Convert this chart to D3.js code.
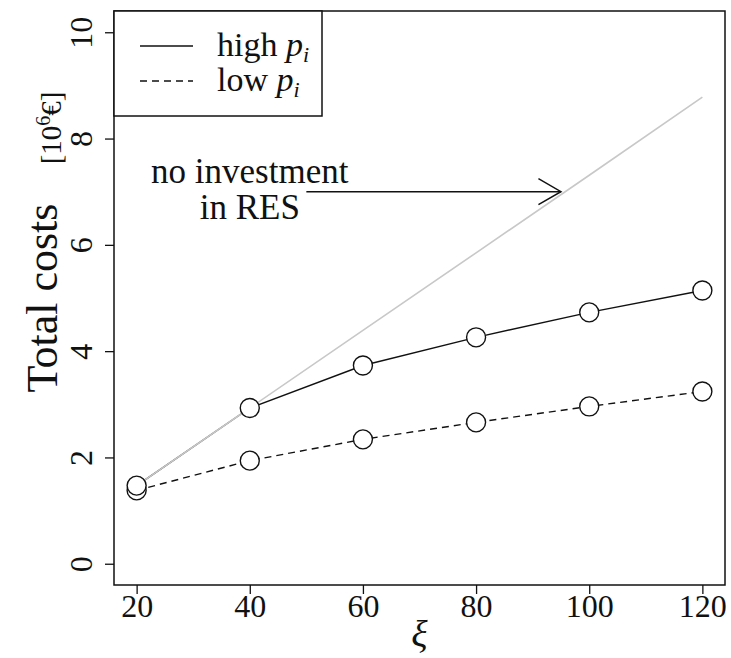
<!DOCTYPE html>
<html>
<head>
<meta charset="utf-8">
<script src="https://cdn.jsdelivr.net/npm/d3@7"></script>
<style>
  html, body { margin: 0; padding: 0; background: #fff; }
  svg text { font-family: "Liberation Serif", "DejaVu Serif", serif; fill: #111; }
</style>
</head>
<body>
<svg id="chart" width="731" height="658"></svg>
<script>
// Penalty factor ξ on the x axis
const xi = [20, 40, 60, 80, 100, 120];
// Total costs [10^6 €] for high and low prices p_i
const highP = [1.47, 2.93, 3.73, 4.26, 4.73, 5.14];
const lowP  = [1.38, 1.94, 2.34, 2.66, 2.96, 3.24];
// Reference: total costs without any investment in RES
const noInvest = [1.47, 2.93, 4.39, 5.85, 7.31, 8.78];
const xTicks = [20, 40, 60, 80, 100, 120];
const yTicks = [0, 2, 4, 6, 8, 10];
const legendLabels = ["high", "low"];
// Annotation anchor (text centre) and arrow span, in data units
const noteAt = [40, 7];
const arrowFrom = [50, 7];
const arrowTo = [95, 7];

const svg = d3.select("#chart");
const pL = 114, pR = 725, pT = 11, pB = 585;

const x = d3.scaleLinear().domain([16, 124]).range([pL, pR]);
const y = d3.scaleLinear().domain([-0.4, 10.4]).range([pB, pT]);

// Axes
const gx = svg.append("g").attr("transform", `translate(0,${pB})`)
  .call(d3.axisBottom(x).tickValues(xTicks).tickSize(9).tickFormat(d3.format("d")));
gx.select(".domain").remove();
gx.selectAll(".tick line").attr("stroke", "#111").attr("stroke-width", 1.3);
gx.selectAll(".tick text").attr("y", 32).attr("dy", 0)
  .style("font-size", "32px").style("font-family", "Liberation Serif");

const gy = svg.append("g").attr("transform", `translate(${pL},0)`)
  .call(d3.axisLeft(y).tickValues(yTicks).tickSize(9).tickFormat(d3.format("d")));
gy.select(".domain").remove();
gy.selectAll(".tick line").attr("stroke", "#111").attr("stroke-width", 1.3);
gy.selectAll(".tick text")
  .attr("x", 0).attr("y", -22).attr("dy", 0)
  .attr("text-anchor", "middle")
  .attr("transform", "rotate(-90)")
  .style("font-size", "32px").style("font-family", "Liberation Serif");

// Axis titles
svg.append("text")
  .attr("transform", `translate(57,${(pT + pB) / 2}) rotate(-90)`)
  .attr("text-anchor", "middle")
  .style("font-size", "44px")
  .text("Total costs");

const unit = svg.append("text")
  .attr("transform", `translate(61,${y(8.2)}) rotate(-90)`)
  .attr("text-anchor", "middle")
  .style("font-size", "29px");
unit.append("tspan").text("[10");
unit.append("tspan").attr("dy", -11).style("font-size", "20px").text("6");
unit.append("tspan").attr("dy", 11).text("€]");

svg.append("text")
  .attr("x", (pL + pR) / 2).attr("y", 647)
  .attr("text-anchor", "middle")
  .style("font-size", "38px").style("font-style", "italic")
  .text("ξ");

const line = d3.line().x((d, i) => x(xi[i])).y(d => y(d));

// Series lines
svg.append("path").datum(highP)
  .attr("d", line).attr("fill", "none")
  .attr("stroke", "#111").attr("stroke-width", 1.4);
svg.append("path").datum(lowP)
  .attr("d", line).attr("fill", "none")
  .attr("stroke", "#111").attr("stroke-width", 1.4)
  .attr("stroke-dasharray", "7,5");

// No-investment reference line, drawn over the series where they coincide
svg.append("path").datum(noInvest)
  .attr("d", line).attr("fill", "none")
  .attr("stroke", "#c8c8c8").attr("stroke-width", 1.6);

// Markers
[lowP, highP].forEach(series => {
  svg.append("g").selectAll("circle").data(series).join("circle")
    .attr("cx", (d, i) => x(xi[i])).attr("cy", d => y(d))
    .attr("r", 9.5)
    .attr("fill", "#fff").attr("stroke", "#111").attr("stroke-width", 1.4);
});

// Annotation text and arrow
const note = svg.append("text")
  .attr("x", x(noteAt[0])).attr("y", y(noteAt[1]) - 9)
  .attr("text-anchor", "middle")
  .style("font-size", "35px");
note.append("tspan").attr("x", x(noteAt[0])).text("no investment");
note.append("tspan").attr("x", x(noteAt[0])).attr("dy", 36).text("in RES");

const ax0 = x(arrowFrom[0]), ax1 = x(arrowTo[0]), ay = y(arrowTo[1]);
svg.append("line")
  .attr("x1", ax0).attr("y1", ay).attr("x2", ax1).attr("y2", ay)
  .attr("stroke", "#111").attr("stroke-width", 1.5);
svg.append("path")
  .attr("d", `M${ax1 - 22.5},${ay - 13}L${ax1},${ay}L${ax1 - 22.5},${ay + 13}`)
  .attr("fill", "none").attr("stroke", "#111").attr("stroke-width", 1.5);

// Plot frame
svg.append("rect")
  .attr("x", pL).attr("y", pT)
  .attr("width", pR - pL).attr("height", pB - pT)
  .attr("fill", "none").attr("stroke", "#111").attr("stroke-width", 1.5);

// Legend: box, line samples and labels
const legend = svg.append("g");
legend.append("rect")
  .attr("x", pL).attr("y", pT).attr("width", 322 - pL).attr("height", 116 - pT)
  .attr("fill", "#fff").attr("stroke", "#111").attr("stroke-width", 1.5);
const rowY = [46, 81];
const rowDash = [null, "7,5"];
rowY.forEach((yy, i) => {
  legend.append("line")
    .attr("x1", 140).attr("x2", 193).attr("y1", yy).attr("y2", yy)
    .attr("stroke", "#111").attr("stroke-width", 1.4)
    .attr("stroke-dasharray", rowDash[i]);
  const t = legend.append("text")
    .attr("x", 217).attr("y", yy + 10)
    .style("font-size", "34px");
  t.append("tspan").text(legendLabels[i] + " ");
  t.append("tspan").style("font-style", "italic").text("p");
  t.append("tspan").attr("dy", 6).style("font-size", "22px").style("font-style", "italic").text("i");
});
</script>
</body>
</html>
